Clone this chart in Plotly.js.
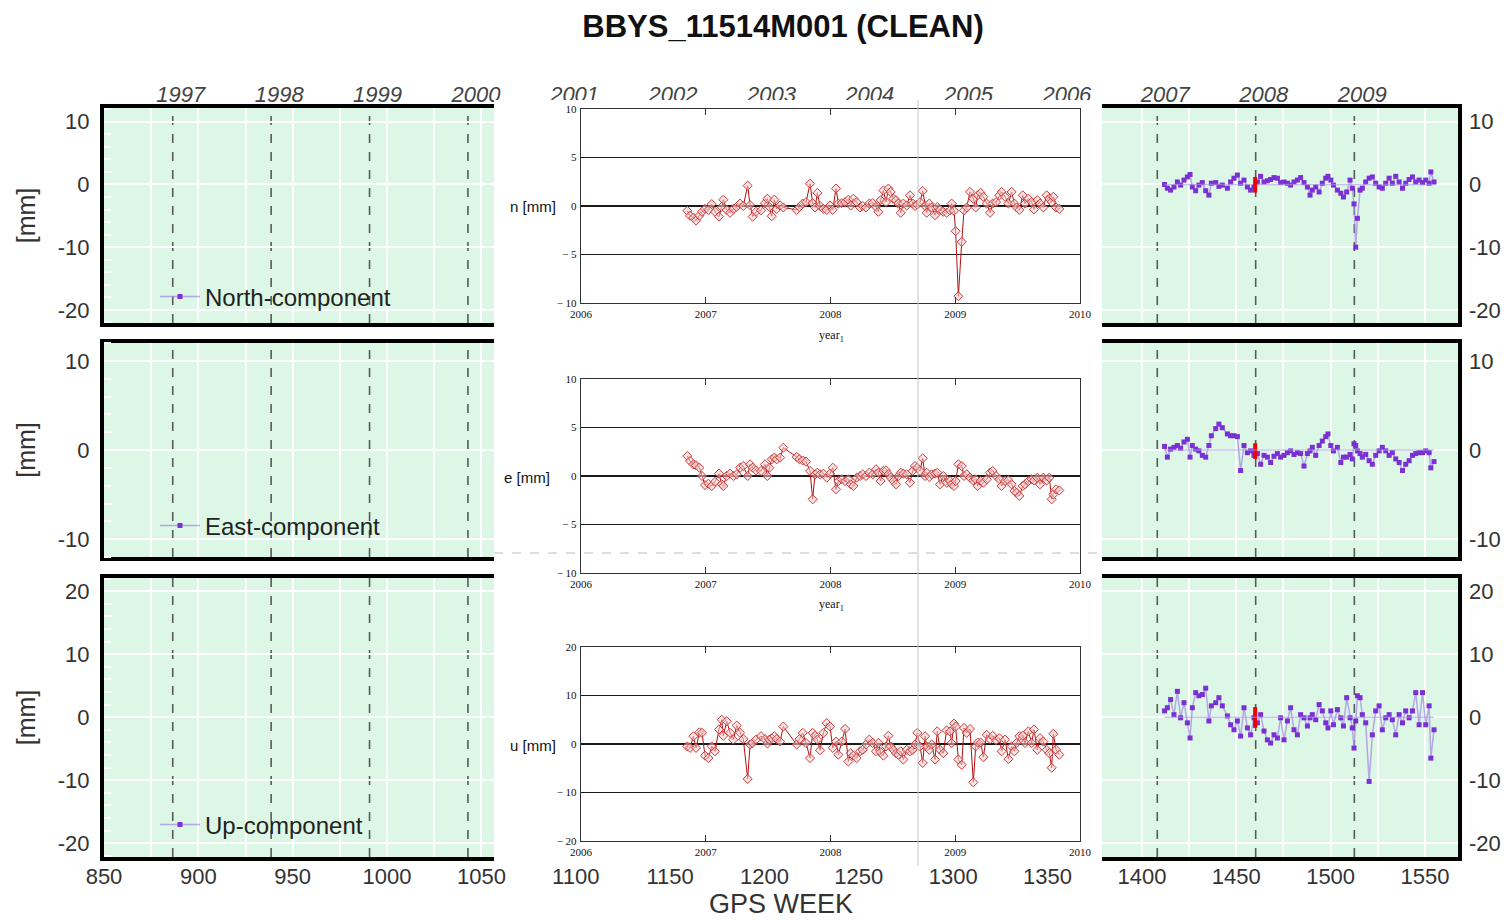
<!DOCTYPE html>
<html><head><meta charset="utf-8">
<script src="https://cdn.plot.ly/plotly-3.0.1.min.js"></script>
<style>
html,body{margin:0;padding:0;background:#fff;}
#main{position:absolute;left:0;top:0;width:1510px;height:922px;}
#inset{position:absolute;left:494px;top:100px;width:608px;height:766px;}
</style></head><body>
<div id="main"></div><div id="inset"></div>
<script>
// ---------- background GPS-week chart (purple series) ----------
const purpleWeeks = [1412.0,1413.5,1415.2,1417.0,1418.8,1420.5,1422.3,1424.1,1425.5,1426.7,
1428.5,1430.2,1432.0,1433.8,1435.5,1436.8,1439.1,1440.8,1442.6,1445.3,
1447.0,1448.8,1450.6,1452.3,1454.1,1455.9,1457.6,1459.4,1461.2,1462.9,
1464.7,1466.5,1468.2,1470.0,1471.8,1473.5,1475.3,1477.1,1478.8,1480.6,
1482.4,1484.1,1485.9,1487.7,1489.1,1490.3,1492.1,1493.9,1495.6,1497.4,
1498.6,1500.1,1501.5,1503.6,1505.4,1506.8,1508.5,1510.3,1511.5,1512.4,
1513.3,1514.2,1515.6,1516.8,1518.6,1520.4,1522.1,1523.9,1525.7,1527.4,
1529.2,1531.0,1532.7,1534.5,1536.3,1538.1,1539.8,1541.6,1543.4,1545.1,
1546.9,1548.7,1550.4,1552.2,1553.1,1554.8];
const purpleNorth = [0,-0.6,-0.9,-0.4,0.4,-0.1,0.7,1.2,1.6,-0.4,
-1.0,-0.1,0.3,-1.0,-1.7,0.2,0.3,-0.3,-0.1,-0.6,
0.4,1.0,1.5,0.2,0.7,-0.4,-0.9,-0.4,0.4,1.3,
0.4,0.6,0.8,1.1,1.0,0.3,0.4,0.2,-0.1,0.4,
0.7,1.1,0.3,-0.4,-1.7,-0.9,-0.4,-1.2,0.2,1.0,
1.3,0.7,-0.1,-0.9,-1.4,-2.0,-1.2,0.7,-0.6,-3.1,
-10.0,-5.4,-0.9,-0.6,0.4,1.0,1.2,0.2,-0.4,-0.6,
0.2,1.0,0.2,1.3,0.4,-0.6,0.2,0.8,1.2,0.4,
0.7,0.3,0.7,0.2,2.0,0.4];
const purpleEast = [0.4,-0.8,0.1,0.3,0.5,0.2,0.9,1.2,-0.8,0.5,
0.1,-0.1,-0.6,-0.8,0.5,1.6,2.4,2.9,2.5,1.8,
1.6,1.6,1.5,-2.3,0.5,-0.3,-0.1,-0.6,-0.4,-1.6,
-0.6,-0.8,-1.4,-0.7,-0.4,-0.8,-0.6,-0.3,-0.1,-0.5,
-0.3,-0.4,-1.8,-0.4,-0.1,0.3,-0.6,0.5,1.0,1.5,
1.8,0.5,-0.1,0.3,-1.4,-0.8,-0.8,-0.5,-1.0,0.7,
0.5,-0.1,-0.4,-0.8,-0.5,-1.2,-1.6,-0.6,-0.1,0.3,
-0.1,-0.6,-0.3,-1.0,-1.4,-2.3,-1.6,-1.2,-0.6,-0.4,
-0.3,-0.3,-0.1,-0.3,-2.0,-1.3];
const purpleUp = [1.0,1.5,2.8,0.4,4.1,-0.1,2.3,-0.9,-3.3,1.5,
3.9,3.4,3.6,4.6,-0.6,1.8,2.3,3.1,1.8,0.2,
-1.2,-2.0,-0.6,-3.0,1.5,-1.7,-2.8,-0.1,-0.9,0.4,
-2.2,-3.6,-4.1,-2.8,-3.3,-0.1,-3.6,-0.6,1.5,-2.0,
-2.8,0.4,-0.1,-1.4,-0.1,0.4,-0.4,2.0,1.0,-0.9,
-1.7,1.0,-1.2,1.2,-0.1,-1.4,3.1,-0.1,-1.7,-4.9,
-0.6,3.4,3.1,0.4,-0.9,-10.2,-2.8,1.0,1.8,-2.0,
-0.1,0.4,-0.4,-2.8,0.4,-0.9,1.0,-0.1,1.0,3.9,
-1.2,3.9,-1.2,1.8,-6.5,-2.0];
// equipment-change marker (red bar)
const eventWeek = 1460;
const eventNorth = [-1.3, 1.2];
const eventEast = [-1.0, 0.75];
const eventUp = [-1.7, 1.6];
const componentNames = ['North-component','East-component','Up-component'];
const yearTicks = [1997,1998,1999,2000,2001,2002,2003,2004,2005,2006,2007,2008,2009];
const weekTicks = [850,900,950,1000,1050,1100,1150,1200,1250,1300,1350,1400,1450,1500,1550];
const northTicks = [-20,-10,0,10];
const eastTicks = [-10,0,10];
const upTicks = [-20,-10,0,10,20];

// ---------- inset (red series, decimal years) ----------
const redYears = [2006.852,2006.874,2006.901,2006.922,2006.949,2006.970,2006.994,2007.021,2007.048,2007.074,
2007.106,2007.128,2007.141,2007.168,2007.195,2007.221,2007.248,2007.275,2007.301,2007.336,
2007.355,2007.376,2007.403,2007.443,2007.475,2007.494,2007.510,2007.529,2007.550,2007.569,
2007.596,2007.622,2007.729,2007.751,2007.777,2007.804,2007.836,2007.857,2007.876,2007.895,
2007.916,2007.943,2007.970,2007.996,2008.018,2008.044,2008.063,2008.090,2008.117,2008.143,
2008.162,2008.183,2008.210,2008.237,2008.258,2008.285,2008.311,2008.338,2008.365,2008.384,
2008.402,2008.424,2008.445,2008.464,2008.482,2008.504,2008.525,2008.544,2008.563,2008.584,
2008.611,2008.637,2008.659,2008.677,2008.696,2008.718,2008.739,2008.758,2008.771,2008.792,
2008.811,2008.838,2008.856,2008.878,2008.904,2008.931,2008.958,2008.971,2008.990,2009.003,
2009.025,2009.052,2009.070,2009.092,2009.118,2009.145,2009.164,2009.180,2009.204,2009.225,
2009.252,2009.279,2009.300,2009.327,2009.354,2009.372,2009.399,2009.426,2009.452,2009.474,
2009.492,2009.514,2009.541,2009.559,2009.586,2009.613,2009.631,2009.658,2009.679,2009.706,
2009.733,2009.754,2009.773,2009.786,2009.808,2009.834];
const redN = [-0.5,-1.0,-1.2,-1.5,-1.0,-0.6,-0.3,-0.4,0.2,-0.6,
-1.1,-0.1,0.65,-0.4,-0.7,-0.3,-0.1,0.25,0,2.1,
0.1,-1.1,-0.6,-0.45,0.3,0.75,-0.1,-1.05,0.65,-0.3,
0.05,-0.15,-0.4,-0.1,0.25,0.4,2.3,0.3,-0.15,1.35,
0,-0.3,-0.4,0.05,-0.4,1.8,0.25,0.3,0.4,0.65,
0.05,0.75,0.4,-0.15,0,-0.15,0.25,0.3,-0.1,-0.6,
0.6,1.6,0.4,1.8,1.45,0.75,0.6,0.25,-0.7,0.25,
0.05,1.1,0.25,0,0.15,0.4,1.55,0,-0.7,0.25,
-0.15,-0.95,-0.1,-0.4,-0.6,-0.7,-0.45,0.25,-0.5,-2.6,
-9.3,-3.7,-0.45,-0.15,1.45,0.75,-0.15,1.1,1.35,0.95,
0.25,-0.7,0.25,0.4,1.1,1.45,0.95,0.25,1.45,0.25,
-0.15,-0.4,1.1,0.25,0.75,0.4,-0.35,0.6,0.25,-0.15,
1.1,0.75,0.4,0.95,-0.15,-0.3];
const redE = [2.06,1.55,1.2,1.1,0.86,0,-0.93,-0.8,-1.03,-0.6,
0.24,-0.86,-1.03,0,0.24,0,0.17,0.86,1.03,0,
1.2,0.86,0.58,0.52,1.2,0,0.86,1.72,1.9,1.72,
1.9,2.92,1.96,1.72,1.6,1.48,0.52,-2.4,0.17,0.34,
0.17,0.24,-0.17,0.24,0.86,-1.37,-0.52,-0.34,-0.52,-0.34,
-0.86,-1.03,-0.17,0,0.17,0,0.34,0.17,0.69,0.34,
-0.52,0.52,0.58,0.17,-0.17,-0.52,-0.86,0,0.34,0.24,
0.17,-0.69,0.52,1.03,0.86,0.52,1.82,0,0.34,-0.1,
0.17,0.24,0.34,-0.86,0,-0.69,-0.52,-0.86,-1.03,-0.52,
1.2,1.03,0,0.17,-0.17,-0.45,-0.34,-1.03,-0.52,-0.69,
-0.34,0.34,0.52,0,-0.34,-1.03,-0.52,-0.45,-0.86,-1.55,
-1.72,-2.06,-1.03,-0.86,-0.52,-0.34,-0.45,-0.17,-0.86,-0.17,
-0.45,-0.17,-2.4,-1.9,-1.37,-1.48];
const redU = [-0.5,-0.8,1.6,-0.8,2.4,2.3,-2.4,-2.9,-0.5,-1.5,
3.0,5.0,1.7,4.7,2.3,0.9,3.8,2.3,1.0,-7.2,
-0.1,0.2,0.9,1.6,1.0,0.1,0.9,1.2,1.6,1.0,
0.5,3.6,-0.1,1.0,2.3,0.2,-2.9,2.3,1.7,0.9,
-1.3,2.3,4.3,3.6,-0.8,0.5,-2.2,0.5,3.1,-3.6,
-1.9,-2.4,-2.9,-1.5,-1.2,-0.1,0.9,0.2,-1.5,0.2,
-1.7,-2.4,-0.5,1.7,-0.5,-1.2,-1.9,-2.2,-1.5,-3.2,
-1.2,-1.5,-1.2,-0.1,2.3,-0.5,-3.9,1.6,-0.5,-1.2,
-0.1,-3.2,2.6,-1.2,-1.9,2.8,2.6,0.2,4.2,3.6,
-3.2,-4.3,3.3,2.3,3.1,-7.9,-0.5,0.3,0.3,-2.7,
1.9,1.0,1.7,0.8,1.2,-1.5,0.9,-3.1,-0.5,-1.5,
0.2,1.6,1.7,0.2,2.6,0.2,3.0,-1.2,1.2,0.5,
-1.2,-1.9,-4.9,2.1,-1.2,-2.2];
const redXTicks = [2006,2007,2008,2009,2010];
const redNTicks = [-10,-5,0,5,10];
const redUTicks = [-20,-10,0,10,20];

// ---------------- main figure ----------------
const SANS = 'Liberation Sans, Arial, Helvetica, sans-serif';
const SERIF = 'Liberation Serif, Times New Roman, serif';
const tickFont = {family: SANS, size: 22, color: '#333'};
function gpsWeek(y){ return (Date.UTC(y,0,1) - Date.UTC(1980,0,6)) / (7*86400000); }
const XR = [850, 1567.5];

function yLeft(domain, range, tv){
  return {domain, range, anchor:'x', tickvals: tv, ticktext: tv.map(String),
    showgrid:true, gridcolor:'#ffffff', gridwidth:2, zeroline:false,
    showline:true, linecolor:'#000', linewidth:4, mirror:true, ticks:'',
    tickfont: tickFont, ticklabelstandoff: 6,
    minor:{dtick:2, ticks:'inside', ticklen:7, tickcolor:'#ffffff', tickwidth:2, showgrid:false},
    title:{text:'[mm]', font:{family:SANS, size:25, color:'#333'}, standoff: 16}};
}
function yRight(over, range, tv){
  return {overlaying: over, side:'right', anchor:'x', range, tickvals: tv, ticktext: tv.map(String),
    showgrid:false, zeroline:false, showline:false, ticks:'', tickfont: tickFont, ticklabelstandoff: 10};
}
const purpleMarker = {color:'#7a30d4', size:5, symbol:'square'};
const purpleLine = {color:'rgba(165,140,230,0.75)', width:1.5};
const series = [purpleNorth, purpleEast, purpleUp];
const events = [eventNorth, eventEast, eventUp];
const yIds = ['y','y2','y3'];
const yRightIds = ['y4','y5','y6'];
const legIds = ['legend','legend2','legend3'];
const traces = [];
series.forEach((s,i)=>{
  // zero reference line across the data span (drawn on the right-hand axis of each panel)
  traces.push({x:[purpleWeeks[0], purpleWeeks[purpleWeeks.length-1]], y:[0,0], xaxis:'x', yaxis:yRightIds[i],
    mode:'lines', line:{color:'rgba(170,150,230,0.6)', width:1.5}, showlegend:false, hoverinfo:'skip'});
  traces.push({x:purpleWeeks, y:s, xaxis:'x', yaxis:yIds[i], mode:'lines+markers', name:componentNames[i],
    legend: legIds[i], marker: purpleMarker, line: purpleLine});
  // north marker uses the top (calendar-year) axis, which shares the GPS-week range
  traces.push({x:[eventWeek,eventWeek], y:events[i], xaxis:(i===0?'x4':'x'), yaxis:yIds[i], mode:'lines',
    line:{color:'#ee0000', width:4}, showlegend:false});
});

const shapes = [];
['y domain','y2 domain','y3 domain'].forEach(yr=>{
  yearTicks.forEach(yy=>{
    const w = gpsWeek(yy);
    shapes.push({type:'line', xref:'x', yref:yr, x0:w, x1:w, y0:0, y1:1, layer:'below',
      line:{color:'#5a5a5a', width:1.6, dash:'dash'}});
  });
});

const legBase = {xanchor:'left', yanchor:'middle', bgcolor:'rgba(0,0,0,0)', borderwidth:0,
  font:{family:SANS, size:24, color:'#222'}, itemwidth:40};
const layout = {
  width:1510, height:922, margin:{l:0,r:0,t:0,b:0},
  paper_bgcolor:'#ffffff', plot_bgcolor:'#dcf7e5',
  title:{text:'BBYS_11514M001 (CLEAN)', x:783/1510, xanchor:'center', y:1-26/922, yanchor:'middle',
    font:{family:SANS, size:31, color:'#111', weight:'bold'}},
  xaxis:{domain:[104/1510,1458/1510], range:XR, anchor:'y3', tickvals:weekTicks, ticktext:weekTicks.map(String),
    tickfont:tickFont, showgrid:true, gridcolor:'#ffffff', gridwidth:2,
    minor:{tick0:850, dtick:25, showgrid:true, gridcolor:'#ffffff', gridwidth:2},
    showline:true, linecolor:'#000', linewidth:4, mirror:'all', zeroline:false, ticks:'',
    ticklabelstandoff:-3,
    title:{text:'GPS WEEK', font:{family:SANS, size:27, color:'#333'}, standoff:2}},
  xaxis4:{overlaying:'x', side:'top', anchor:'y', range:XR, tickvals:yearTicks.map(gpsWeek), ticktext:yearTicks.map(String),
    showgrid:false, zeroline:false, showline:false, ticks:'', ticklabelshift:8, ticklabelstandoff:1,
    tickfont:{family:SANS, size:22, color:'#444', style:'italic'}},
  yaxis: yLeft([1-323/922, 1-108/922], [-22.1, 12.2], northTicks),
  yaxis2: yLeft([1-557/922, 1-343/922], [-12.0, 12.0], eastTicks),
  yaxis3: yLeft([1-857/922, 1-578/922], [-22.2, 22.1], upTicks),
  yaxis4: yRight('y', [-22.1, 12.2], northTicks),
  yaxis5: yRight('y2', [-12.0, 12.0], eastTicks),
  yaxis6: yRight('y3', [-22.2, 22.1], upTicks),
  legend: Object.assign({x:155/1510, y:1-297/922}, legBase),
  legend2: Object.assign({x:155/1510, y:1-526/922}, legBase),
  legend3: Object.assign({x:155/1510, y:1-825/922}, legBase),
  shapes: shapes,
  showlegend:true
};
Plotly.newPlot('main', traces, layout, {displayModeBar:false, staticPlot:true});

// ---------------- inset figure ----------------
const XD = [87/608, 586/608];
const H = 766;
function mx(domain, anchor){
  return {domain, anchor, range:[2006,2010], tickvals:redXTicks, ticktext:redXTicks.map(String),
    ticks:'inside', ticklen:6, tickcolor:'#333', tickwidth:1.2, showline:true, linecolor:'#333', linewidth:1.2,
    mirror:'ticks', showgrid:false, zeroline:false, tickfont:{family:SERIF, size:11, color:'#111'}, ticklabelstandoff:1};
}
function my(domain, anchor, range, tv){
  return {domain, anchor, range, tickvals:tv, ticktext: tv.map(v => v < 0 ? '\u2212 ' + (-v) : String(v)),
    showgrid:true, gridcolor:'#1a1a1a', gridwidth:1.3, showline:true, linecolor:'#333', linewidth:1.2, mirror:true,
    ticks:'', zeroline:false, tickfont:{family:SERIF, size:11, color:'#111'}, ticklabelstandoff:1};
}
const redStyle = {mode:'lines+markers', line:{color:'#b31010', width:1},
  marker:{symbol:'diamond', size:7, color:'rgba(250,205,205,0.55)', line:{color:'#c83c3c', width:1}}, showlegend:false};
const insetTraces = [
  Object.assign({x:redYears, y:redN, xaxis:'x', yaxis:'y'}, redStyle),
  Object.assign({x:redYears, y:redE, xaxis:'x2', yaxis:'y2'}, redStyle),
  Object.assign({x:redYears, y:redU, xaxis:'x3', yaxis:'y3'}, redStyle)
];
const labFont = {family:SANS, size:15, color:'#111'};
const insetLayout = {
  width:608, height:766, margin:{l:0,r:0,t:0,b:0}, paper_bgcolor:'#ffffff', plot_bgcolor:'#ffffff',
  xaxis: mx(XD,'y'), xaxis2: mx(XD,'y2'), xaxis3: mx(XD,'y3'),
  yaxis: my([1-203/H, 1-9/H], 'x', [-10,10], redNTicks),
  yaxis2: my([1-473/H, 1-279/H], 'x2', [-10,10], redNTicks),
  yaxis3: my([1-741/H, 1-547/H], 'x3', [-20,20], redUTicks),
  annotations:[
    {text:'n [mm]', xref:'paper', yref:'paper', x:64/608, y:1-106/H, xanchor:'right', yanchor:'middle', showarrow:false, font:labFont},
    {text:'e [mm]', xref:'paper', yref:'paper', x:58/608, y:1-377/H, xanchor:'right', yanchor:'middle', showarrow:false, font:labFont},
    {text:'u [mm]', xref:'paper', yref:'paper', x:64/608, y:1-645/H, xanchor:'right', yanchor:'middle', showarrow:false, font:labFont},
    {text:'year<sub>1</sub>', xref:'paper', yref:'paper', x:337/608, y:1-236/H, xanchor:'center', yanchor:'middle', showarrow:false, font:{family:SERIF, size:12, color:'#111'}},
    {text:'year<sub>1</sub>', xref:'paper', yref:'paper', x:337/608, y:1-505/H, xanchor:'center', yanchor:'middle', showarrow:false, font:{family:SERIF, size:12, color:'#111'}}
  ],
  shapes:[
    {type:'line', xref:'paper', yref:'paper', x0:424/608, x1:424/608, y0:0, y1:1, line:{color:'#c4c4c4', width:1}},
    {type:'line', xref:'paper', yref:'paper', x0:0, x1:1, y0:1-453/H, y1:1-453/H, line:{color:'#bdbdbd', width:1, dash:'dash'}}
  ]
};
Plotly.newPlot('inset', insetTraces, insetLayout, {displayModeBar:false, staticPlot:true});
</script>
</body></html>
